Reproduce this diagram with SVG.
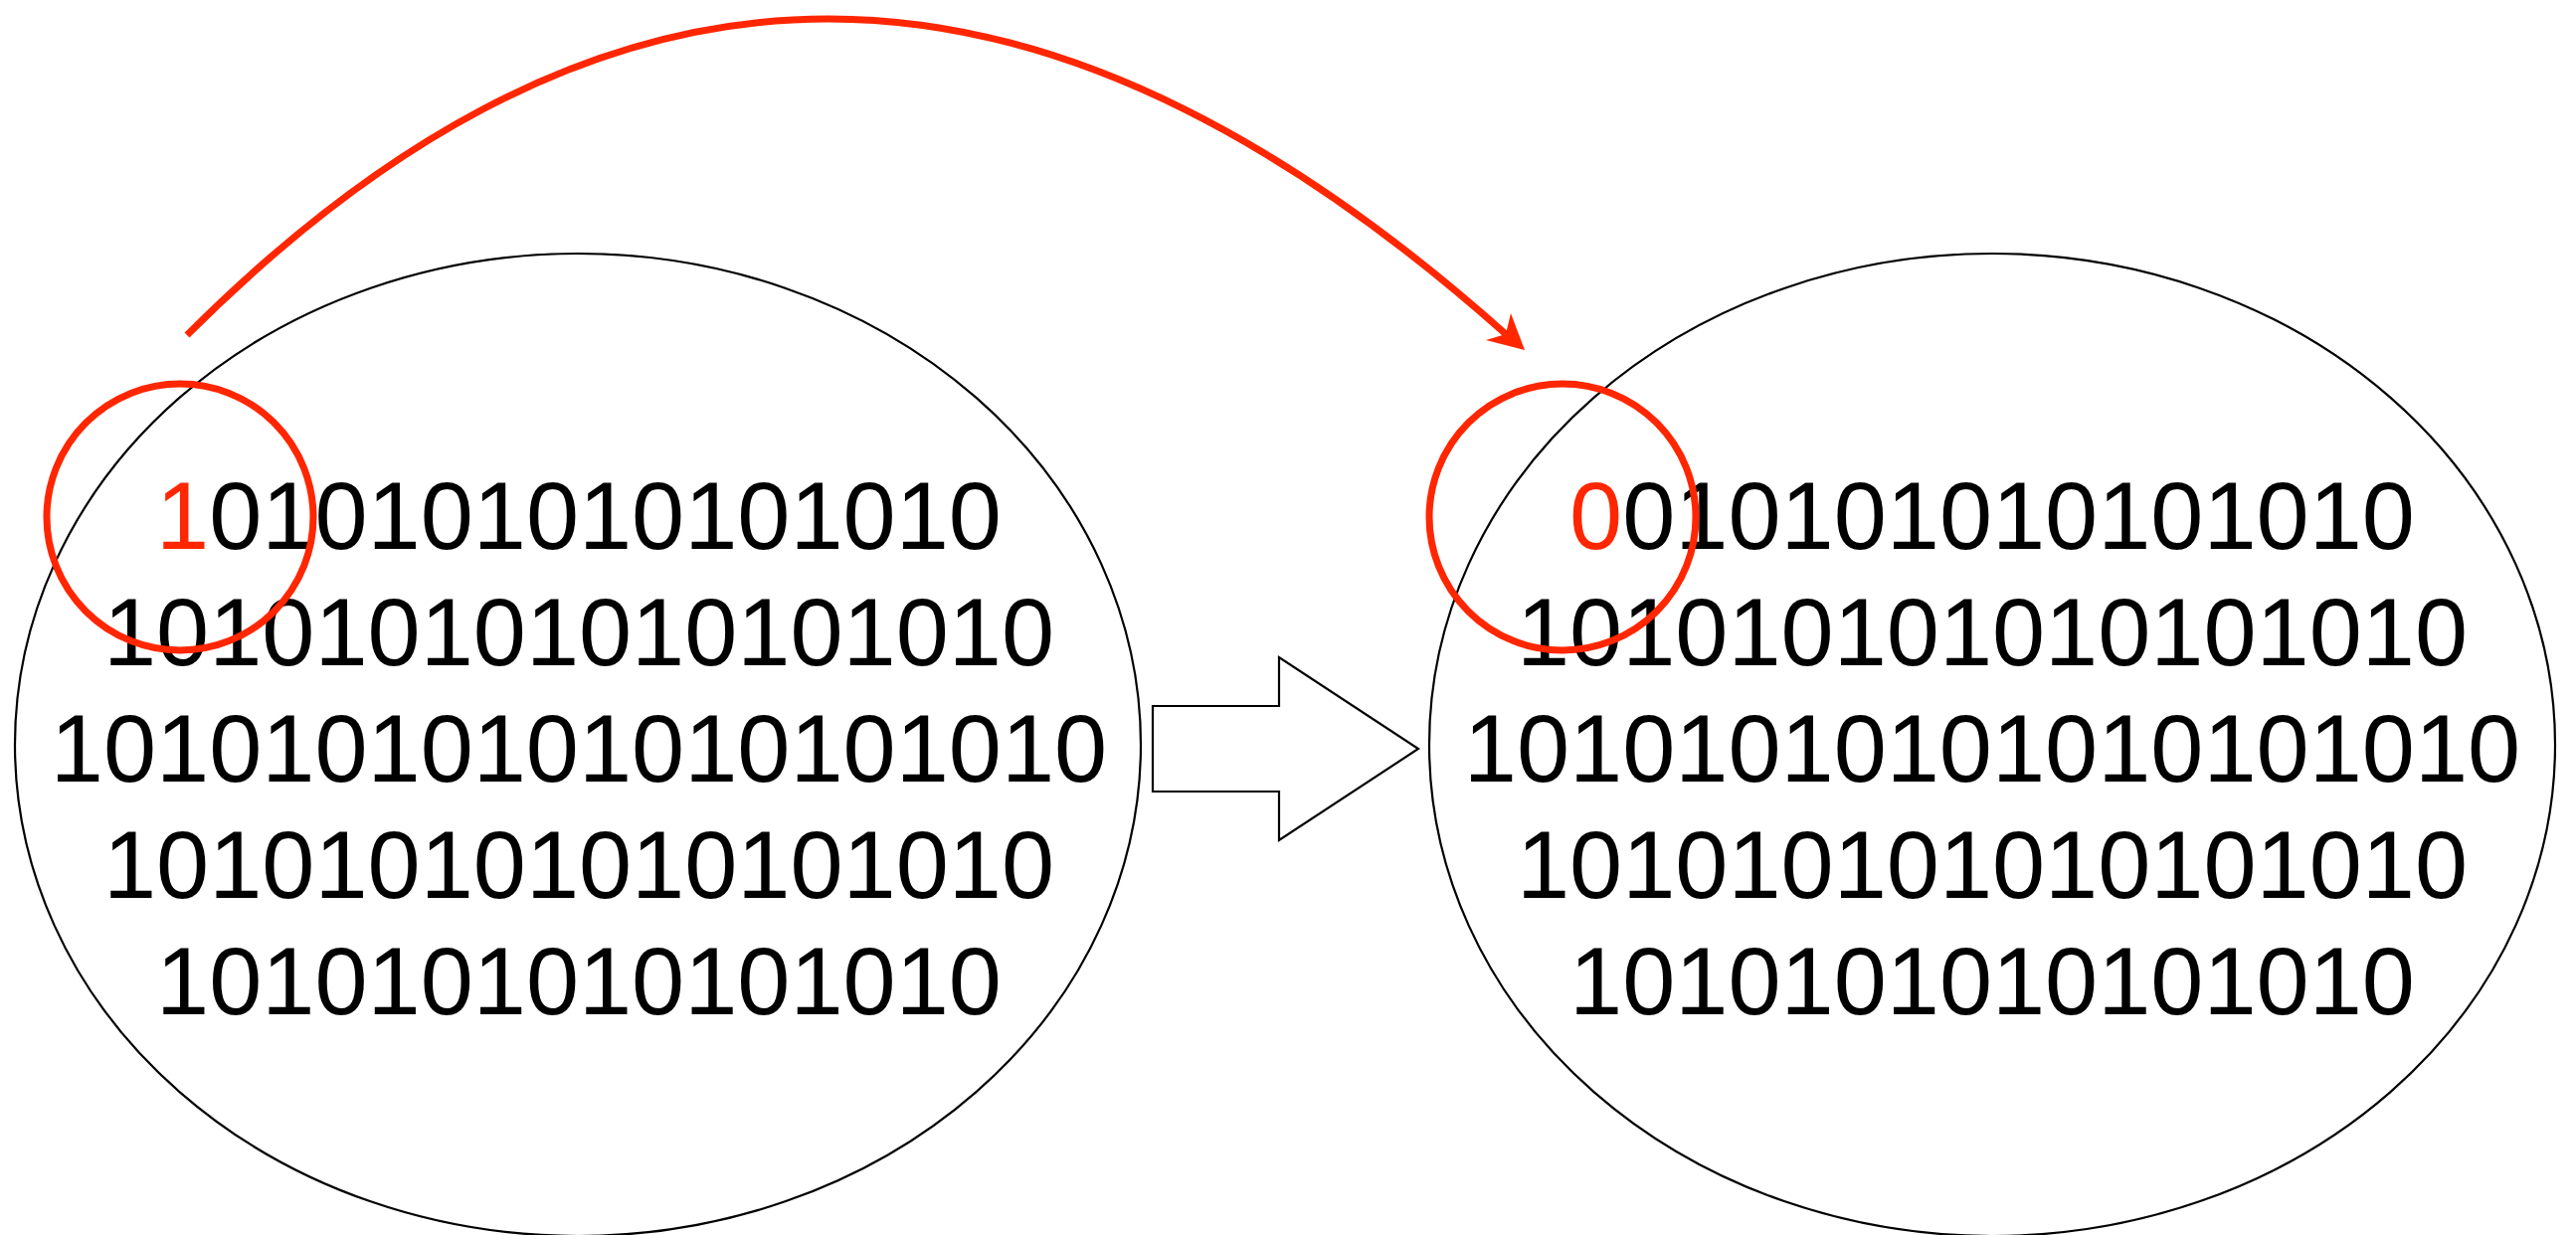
<svg xmlns="http://www.w3.org/2000/svg" width="2590" height="1242" viewBox="0 0 2590 1242">
<style>
.ell{fill:none;stroke:#000;stroke-width:2.2}
.bits{font-family:"Liberation Sans",Arial,sans-serif;font-size:95.5px;fill:#000;text-anchor:middle}
.red{fill:#ff2600}
.ring{fill:none;stroke:#ff2600;stroke-width:7}
</style>
<rect width="2590" height="1242" fill="#fff"/>
<g id="left-memory">
<ellipse class="ell" cx="581" cy="749" rx="566" ry="494"/>
<text class="bits" x="582" y="552"><tspan class="red">1</tspan>010101010101010</text>
<text class="bits" x="582" y="669">101010101010101010</text>
<text class="bits" x="582" y="786">10101010101010101010</text>
<text class="bits" x="582" y="903">101010101010101010</text>
<text class="bits" x="582" y="1020">1010101010101010</text>
<circle class="ring" cx="181" cy="520" r="134"/>
</g>
<g id="right-memory">
<ellipse class="ell" cx="2003" cy="749" rx="566" ry="494"/>
<text class="bits" x="2003" y="552"><tspan class="red">0</tspan>010101010101010</text>
<text class="bits" x="2003" y="669">101010101010101010</text>
<text class="bits" x="2003" y="786">10101010101010101010</text>
<text class="bits" x="2003" y="903">101010101010101010</text>
<text class="bits" x="2003" y="1020">1010101010101010</text>
<circle class="ring" cx="1571" cy="520" r="134"/>
</g>
<g id="connectors">
<polygon points="1159,710 1286,710 1286,661 1426,753 1286,845 1286,796 1159,796" fill="#fff" stroke="#000" stroke-width="2.2"/>
<path d="M188,337 C368,157 583,19 833,19 C1083,19 1313,157 1514,336" fill="none" stroke="#ff2600" stroke-width="7"/>
<polygon points="1533,352 1519,315 1514,336 1494,342" fill="#ff2600"/>
</g>
</svg>
